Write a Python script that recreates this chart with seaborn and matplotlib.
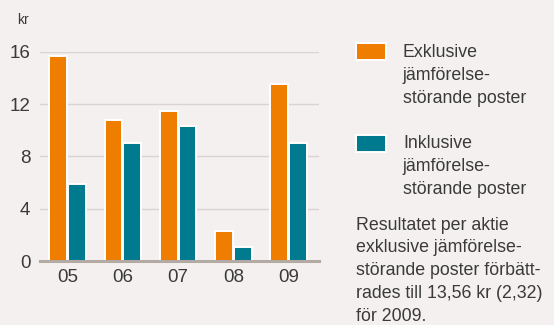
import matplotlib
matplotlib.use("Agg")
import matplotlib.pyplot as plt
from matplotlib.patches import Rectangle
import pandas as pd
import seaborn as sns

# Earnings per share, SEK
years = ["05", "06", "07", "08", "09"]
exklusive = [15.7, 10.8, 11.5, 2.32, 13.56]
inklusive = [5.9, 9.0, 10.3, 1.1, 9.0]
series_names = ["Exklusive\njämförelse-\nstörande poster",
                "Inklusive\njämförelse-\nstörande poster"]
y_ticks = [0, 4, 8, 12, 16]
note = ("Resultatet per aktie\nexklusive jämförelse-\n"
        "störande poster förbätt-\nrades till 13,56 kr (2,32)\nför 2009.")

BG = "#f3f0ef"
ORANGE = "#ef7d00"
TEAL = "#007a8e"
TEXT = "#3a3a3a"
FONT = "Liberation Sans"

df = pd.DataFrame({
    "år": years * 2,
    "kr": exklusive + inklusive,
    "serie": [series_names[0]] * len(years) + [series_names[1]] * len(years),
})

sns.set_style("white")
plt.rcParams["font.family"] = [FONT, "DejaVu Sans"]

W, H = 554, 325
fig = plt.figure(figsize=(W / 100, H / 100), dpi=100, facecolor=BG)
# axes box in pixel coordinates: left 40, right 319, top 51.7 (=16), bottom 261 (=0)
ax = fig.add_axes([40 / W, 1 - 261 / H, (319 - 40) / W, (261 - 51.7) / H])
ax.set_facecolor(BG)

sns.barplot(data=df, x="år", y="kr", hue="serie",
            palette=[ORANGE, TEAL], saturation=1, width=0.68, gap=0.06,
            edgecolor="white", linewidth=1.4, legend=False, ax=ax, zorder=3)

ax.set_ylim(0, 16)
ax.set_xlim(-0.5, 4.55)
ax.set_yticks(y_ticks)
ax.set_yticklabels([str(t) for t in y_ticks])
ax.set_xlabel("")
ax.set_ylabel("")
ax.yaxis.grid(True, color="#d9d4d2", linewidth=1.0, zorder=0)
ax.set_axisbelow(True)
for side in ["top", "right", "left"]:
    ax.spines[side].set_visible(False)
ax.spines["bottom"].set_color("#b3aaa3")
ax.spines["bottom"].set_linewidth(2.2)
ax.spines["bottom"].set_zorder(4)
ax.tick_params(axis="both", length=0, labelsize=13.5, colors=TEXT)
ax.tick_params(axis="y", pad=7)
ax.tick_params(axis="x", pad=6)


def fx(px):
    return px / W


def fy(py):
    return 1 - py / H


def text_block(x, first_baseline, step, text):
    for i, line in enumerate(text.split("\n")):
        fig.text(fx(x), fy(first_baseline + i * step), line, fontsize=12.8,
                 color=TEXT, va="baseline", ha="left")


fig.text(fx(17), fy(24), "kr", fontsize=10, color=TEXT, va="baseline", ha="left")

# legend
for (top, color, label, base) in [(43, ORANGE, series_names[0], 57.3),
                                  (135, TEAL, series_names[1], 148.3)]:
    fig.add_artist(Rectangle((fx(356), fy(top + 17)), 30 / W, 17 / H,
                             transform=fig.transFigure, facecolor=color,
                             edgecolor="white", linewidth=1.4))
    text_block(403, base, 22.7, label)

text_block(356, 229.5, 22.9, note)

fig.savefig("out.png", dpi=100, facecolor=BG)
